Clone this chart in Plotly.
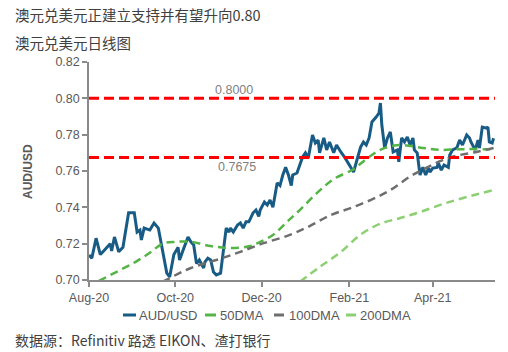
import plotly.graph_objects as go

# ---------------- text ----------------
title_main = "澳元兑美元正建立支持并有望升向0.80"
title_sub = "澳元兑美元日线图"
source_text = "数据源：Refinitiv 路透 EIKON、渣打银行"
y_title = "AUD/USD"

# ---------------- data ----------------
aud_dates = [
    "2020-08-01", "2020-08-03", "2020-08-06", "2020-08-09", "2020-08-12", "2020-08-16", "2020-08-17",
    "2020-08-19", "2020-08-22", "2020-08-25", "2020-08-29", "2020-09-02", "2020-09-04", "2020-09-06",
    "2020-09-07", "2020-09-09", "2020-09-13", "2020-09-16", "2020-09-19", "2020-09-21", "2020-09-25",
    "2020-09-27", "2020-09-28", "2020-09-30", "2020-10-03", "2020-10-04", "2020-10-07", "2020-10-10",
    "2020-10-12", "2020-10-14", "2020-10-16", "2020-10-18", "2020-10-21", "2020-10-22", "2020-10-24",
    "2020-10-26", "2020-10-28", "2020-10-30", "2020-11-02", "2020-11-04", "2020-11-06", "2020-11-08",
    "2020-11-09", "2020-11-11", "2020-11-14", "2020-11-16", "2020-11-18", "2020-11-20", "2020-11-22",
    "2020-11-25", "2020-11-27", "2020-11-29", "2020-11-30", "2020-12-03", "2020-12-05", "2020-12-07",
    "2020-12-09", "2020-12-12", "2020-12-14", "2020-12-16", "2020-12-18", "2020-12-20", "2020-12-22",
    "2020-12-23", "2020-12-26", "2020-12-28", "2020-12-30", "2021-01-01", "2021-01-03", "2021-01-06",
    "2021-01-08", "2021-01-10", "2021-01-11", "2021-01-14", "2021-01-16", "2021-01-18", "2021-01-21",
    "2021-01-23", "2021-01-25", "2021-01-26", "2021-01-29", "2021-01-31", "2021-02-02", "2021-02-04",
    "2021-02-07", "2021-02-09", "2021-02-11", "2021-02-13", "2021-02-15", "2021-02-17", "2021-02-20",
    "2021-02-22", "2021-02-23", "2021-02-24", "2021-02-26", "2021-02-28", "2021-03-02", "2021-03-04",
    "2021-03-07", "2021-03-08", "2021-03-10", "2021-03-12", "2021-03-14", "2021-03-16", "2021-03-18",
    "2021-03-19", "2021-03-21", "2021-03-22", "2021-03-23", "2021-03-25", "2021-03-27", "2021-03-29",
    "2021-03-30", "2021-04-01", "2021-04-04", "2021-04-05", "2021-04-07", "2021-04-09", "2021-04-12",
    "2021-04-13", "2021-04-15", "2021-04-18", "2021-04-20", "2021-04-22", "2021-04-25", "2021-04-27",
    "2021-04-28", "2021-05-01", "2021-05-03", "2021-05-04", "2021-05-06", "2021-05-09", "2021-05-10",
    "2021-05-11", "2021-05-13", "2021-05-14",
]
aud_values = [
    0.7138, 0.7120, 0.7230, 0.7140, 0.7165, 0.7200, 0.7160,
    0.7237, 0.7155, 0.7180, 0.7370, 0.7370, 0.7264, 0.7275,
    0.7220, 0.7286, 0.7275, 0.7314, 0.7286, 0.7200, 0.7038,
    0.7017, 0.7055, 0.7140, 0.7180, 0.7110, 0.7175, 0.7237,
    0.7210, 0.7193, 0.7090, 0.7110, 0.7066, 0.7100, 0.7120,
    0.7110, 0.7044, 0.7028, 0.7038, 0.7165, 0.7286, 0.7264,
    0.7286, 0.7264, 0.7303, 0.7314, 0.7286, 0.7320, 0.7320,
    0.7370, 0.7385, 0.7350, 0.7385, 0.7429, 0.7413, 0.7440,
    0.7400, 0.7534, 0.7520, 0.7578, 0.7620, 0.7578, 0.7520,
    0.7578, 0.7589, 0.7633, 0.7677, 0.7700, 0.7672, 0.7798,
    0.7754, 0.7770, 0.7700, 0.7782, 0.7716, 0.7760, 0.7700,
    0.7743, 0.7716, 0.7705, 0.7672, 0.7644, 0.7620, 0.7594,
    0.7677, 0.7732, 0.7760, 0.7743, 0.7782, 0.7870, 0.7897,
    0.7919, 0.7974, 0.7853, 0.7727, 0.7782, 0.7815, 0.7705,
    0.7716, 0.7650, 0.7782, 0.7760, 0.7787, 0.7743, 0.7782,
    0.7716, 0.7700, 0.7620, 0.7578, 0.7620, 0.7578, 0.7616,
    0.7594, 0.7616, 0.7620, 0.7644, 0.7605, 0.7633, 0.7620,
    0.7688, 0.7716, 0.7727, 0.7770, 0.7743, 0.7798, 0.7782,
    0.7760, 0.7716, 0.7770, 0.7727, 0.7842, 0.7836, 0.7842,
    0.7760, 0.7754, 0.7780,
]

dma50_dates = ["2020-08-08", "2020-08-23", "2020-09-03", "2020-09-13", "2020-09-22", "2020-10-01",
               "2020-10-12", "2020-10-26", "2020-11-09", "2020-11-23", "2020-11-30", "2020-12-09",
               "2020-12-19", "2020-12-28", "2021-01-10", "2021-01-21", "2021-02-04", "2021-02-13",
               "2021-02-24", "2021-03-09", "2021-03-25", "2021-04-06", "2021-04-20", "2021-05-14"]
dma50_values = [0.6995, 0.7055, 0.7100, 0.7150, 0.7200, 0.7210,
                0.7210, 0.7187, 0.7176, 0.7187, 0.7210, 0.7248,
                0.7320, 0.7385, 0.7485, 0.7556, 0.7610, 0.7666,
                0.7720, 0.7743, 0.7727, 0.7716, 0.7720, 0.7720]

dma100_dates = ["2020-09-22", "2020-10-12", "2020-10-30", "2020-11-16", "2020-12-03", "2020-12-21",
                "2021-01-04", "2021-01-19", "2021-02-02", "2021-02-16", "2021-03-02", "2021-03-16",
                "2021-03-28", "2021-04-08", "2021-04-20", "2021-05-02", "2021-05-14"]
dma100_values = [0.6990, 0.7066, 0.7110, 0.7155, 0.7204, 0.7248,
                 0.7297, 0.7358, 0.7396, 0.7440, 0.7495, 0.7570,
                 0.7620, 0.7660, 0.7688, 0.7705, 0.7727]

dma200_dates = ["2020-12-28", "2021-01-12", "2021-01-26", "2021-02-09", "2021-02-23", "2021-03-09",
                "2021-03-23", "2021-04-08", "2021-04-25", "2021-05-14"]
dma200_values = [0.6990, 0.7077, 0.7154, 0.7250, 0.7310, 0.7341,
                 0.7374, 0.7418, 0.7457, 0.7495]

levels = [0.80, 0.7675]
level_labels = ["0.8000", "0.7675"]

xtick_dates = ["2020-08-01", "2020-10-01", "2020-12-01", "2021-02-01", "2021-04-01"]
xtick_labels = ["Aug-20", "Oct-20", "Dec-20", "Feb-21", "Apr-21"]
x_range = ["2020-08-01", "2021-05-15"]
y_range = [0.70, 0.82]

series_names = ["AUD/USD", "50DMA", "100DMA", "200DMA"]

# ---------------- style ----------------
BLUE = "#185C86"
GREEN = "#55B446"
GREY = "#6E6E6E"
LGREEN = "#8DD072"
RED = "#FF0000"
AXIS = "#8A8A8A"
TXT = "#595959"
LATIN = "Liberation Sans, Arial, sans-serif"
CJK = "Noto Sans CJK SC, Noto Sans, sans-serif"

W, H = 508, 352
ML, MR, MT, MB = 89, 13, 62, 72
PW, PH = W - ML - MR, H - MT - MB


def px(x):
    return (x - ML) / PW


def py(y):
    return (H - MB - y) / PH


fig = go.Figure()
fig.add_trace(go.Scatter(x=aud_dates, y=aud_values, mode="lines", name=series_names[0],
                         line=dict(color=BLUE, width=3)))
fig.add_trace(go.Scatter(x=dma50_dates, y=dma50_values, mode="lines", name=series_names[1],
                         line=dict(color=GREEN, width=2.5, dash="8px,5px", shape="spline", smoothing=1)))
fig.add_trace(go.Scatter(x=dma100_dates, y=dma100_values, mode="lines", name=series_names[2],
                         line=dict(color=GREY, width=2.5, dash="8px,5px", shape="spline", smoothing=1)))
fig.add_trace(go.Scatter(x=dma200_dates, y=dma200_values, mode="lines", name=series_names[3],
                         line=dict(color=LGREEN, width=2.5, dash="8px,5px", shape="spline", smoothing=1)))

for lv in levels:
    fig.add_hline(y=lv, line=dict(color=RED, width=3, dash="10px,5px"), layer="above")

annotations = []
# level labels
annotations.append(dict(x=px(234), y=levels[0], xref="paper", yref="y", text=level_labels[0],
                        showarrow=False, xanchor="center", yanchor="middle", yshift=8,
                        font=dict(family=LATIN, size=12.5, color="#7F7F7F")))
annotations.append(dict(x=px(237), y=levels[1], xref="paper", yref="y", text=level_labels[1],
                        showarrow=False, xanchor="center", yanchor="middle", yshift=-10,
                        font=dict(family=LATIN, size=12.5, color="#7F7F7F")))
# titles
annotations.append(dict(x=px(13), y=py(14), xref="paper", yref="paper", text=title_main,
                        showarrow=False, xanchor="left", yanchor="middle",
                        font=dict(family=CJK, size=14.5, color="#404040")))
annotations.append(dict(x=px(13), y=py(43), xref="paper", yref="paper", text=title_sub,
                        showarrow=False, xanchor="left", yanchor="middle",
                        font=dict(family=CJK, size=14.5, color="#404040")))
annotations.append(dict(x=px(13), y=py(340), xref="paper", yref="paper", text=source_text,
                        showarrow=False, xanchor="left", yanchor="middle",
                        font=dict(family=CJK, size=14, color="#404040")))
# y axis title
annotations.append(dict(x=px(28), y=py(171), xref="paper", yref="paper", text="<b>" + y_title + "</b>",
                        showarrow=False, xanchor="center", yanchor="middle", textangle=-90,
                        font=dict(family=LATIN, size=12, color=TXT)))

# manual legend
legend_colors = [BLUE, GREEN, GREY, LGREEN]
legend_sample_x = [(123, 136), (205, 216), (274, 284), (346, 356)]
legend_text_x = [137, 218, 287, 358]
shapes = []
for name, col, (a, b), tx in zip(series_names, legend_colors, legend_sample_x, legend_text_x):
    shapes.append(dict(type="line", xref="paper", yref="paper", x0=px(a), x1=px(b),
                       y0=py(315), y1=py(315), line=dict(color=col, width=3)))
    annotations.append(dict(x=px(tx), y=py(315), xref="paper", yref="paper", text=name,
                            showarrow=False, xanchor="left", yanchor="middle",
                            font=dict(family=LATIN, size=13, color=TXT)))

fig.update_layout(
    width=W, height=H,
    margin=dict(l=ML, r=MR, t=MT, b=MB, pad=0),
    paper_bgcolor="white", plot_bgcolor="white",
    showlegend=False,
    annotations=annotations,
    shapes=list(fig.layout.shapes) + shapes,
)
fig.update_xaxes(
    type="date", range=x_range, tickvals=xtick_dates, ticktext=xtick_labels,
    showline=True, linecolor=AXIS, linewidth=1.5, mirror=False,
    ticks="outside", ticklen=5, tickwidth=1.5, tickcolor=AXIS,
    showgrid=False, zeroline=False,
    tickfont=dict(family=LATIN, size=12.5, color=TXT),
)
fig.update_yaxes(
    range=y_range, tick0=0.70, dtick=0.02, tickformat=".2f",
    showline=True, linecolor=AXIS, linewidth=1.5,
    ticks="outside", ticklen=5, tickwidth=1.5, tickcolor=AXIS,
    showgrid=False, zeroline=False,
    tickfont=dict(family=LATIN, size=12.5, color=TXT),
)

fig.write_html("out.html")
